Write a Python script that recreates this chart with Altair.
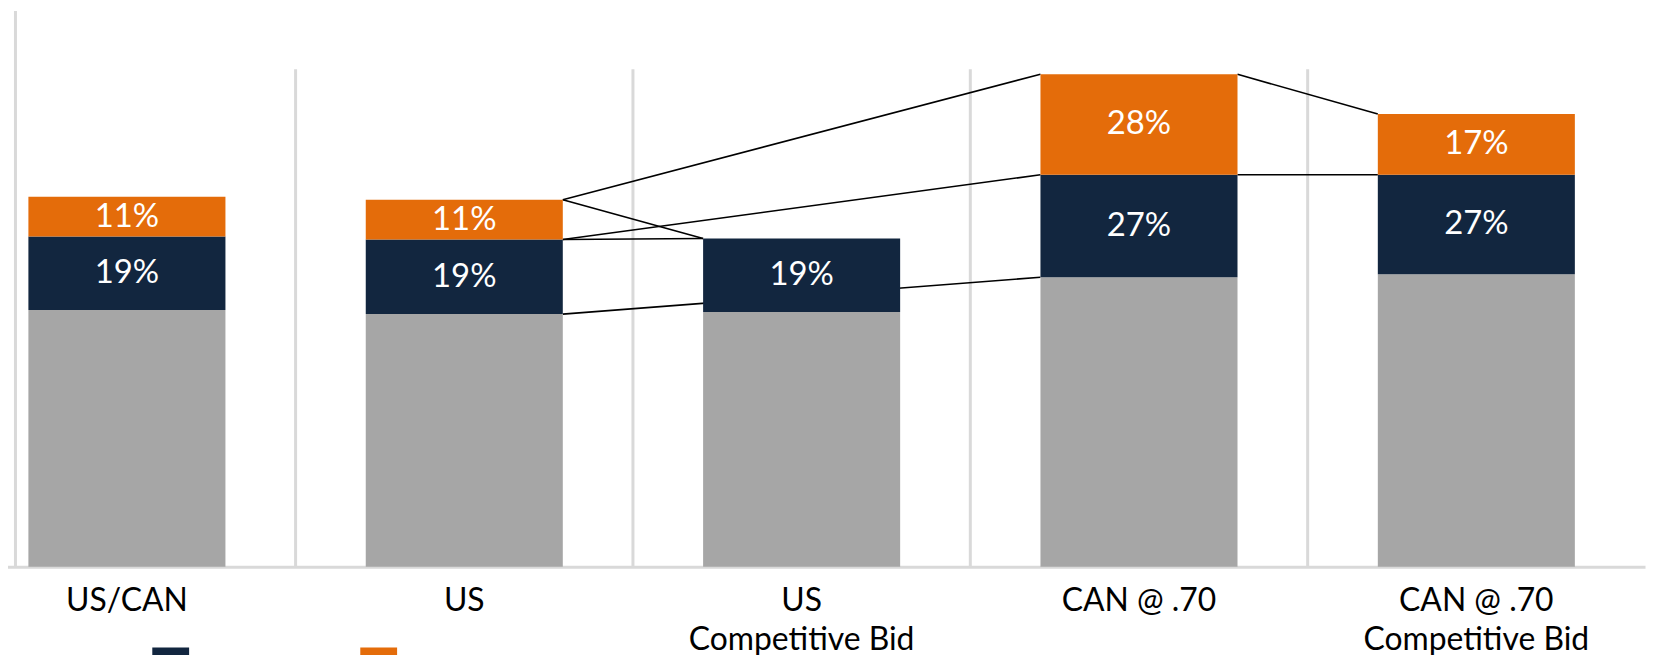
import altair as alt
import pandas as pd

# ---- data ----
categories = ["US/CAN", "US", "US|Competitive Bid", "CAN @ .70", "CAN @ .70|Competitive Bid"]
series = ["Base", "Middle", "Top"]
base_values = [258, 254, 256, 291, 294]
mid_values = [74, 75, 74, 103, 100]
top_values = [40, 40, 0, 101, 61]
mid_labels = ["19%", "19%", "19%", "27%", "27%"]
top_labels = ["11%", "11%", "", "28%", "17%"]

conn_from = ["US", "US", "US", "US", "US", "CAN @ .70", "CAN @ .70"]
conn_to = ["US|Competitive Bid", "CAN @ .70", "US|Competitive Bid", "CAN @ .70", "CAN @ .70",
           "CAN @ .70|Competitive Bid", "CAN @ .70|Competitive Bid"]
conn_level = ["Top", "Top", "Middle", "Middle", "Base", "Top", "Middle"]

colors = ["#A6A6A6", "#12263F", "#E46C0A"]

# ---- build tables ----
seg_rows, text_rows, level_y = [], [], {}
for i, c in enumerate(categories):
    b, m, t = base_values[i], mid_values[i], top_values[i]
    level_y[(c, "Base")] = b
    level_y[(c, "Middle")] = b + m
    level_y[(c, "Top")] = b + m + t
    for s, y0, y1, lab in [("Base", 0, b, ""), ("Middle", b, b + m, mid_labels[i]),
                           ("Top", b + m, b + m + t, top_labels[i])]:
        if y1 > y0:
            seg_rows.append({"cat": c, "series": s, "y0": y0, "y1": y1})
            if lab:
                text_rows.append({"cat": c, "ymid": (y0 + y1) / 2, "label": lab})
seg_df = pd.DataFrame(seg_rows)
text_df = pd.DataFrame(text_rows)
conn_df = pd.DataFrame({
    "from": conn_from,
    "to": conn_to,
    "y_from": [level_y[(f, l)] for f, l in zip(conn_from, conn_level)],
    "y_to": [level_y[(t, l)] for t, l in zip(conn_to, conn_level)],
})
grid_df = pd.DataFrame({"cat": categories[1:]})

# ---- layout ----
W, H = 1641, 559
BAR = 198
STEP = 339
X0 = -57
step = STEP
right_edge = 0.5 + (BAR / 2) / step
left_edge = 0.5 - (BAR / 2) / step

xscale = alt.Scale(domain=categories, paddingInner=0, paddingOuter=0,
                   range=[X0, X0 + STEP * len(categories)])
yscale = alt.Scale(domain=[0, H], nice=False, zero=True)

xaxis = alt.Axis(title=None, labelExpr="split(datum.label, '|')", labelFont="Lato",
                 labelFontSize=32, labelColor="black", labelPadding=19, labelLineHeight=39,
                 labelLimit=0, ticks=False, tickSize=0, domain=True, domainColor="#D9D9D9",
                 domainWidth=3, labelBaseline="top", labelAngle=0, grid=False)
yaxis = alt.Axis(title=None, labels=False, ticks=False, grid=False, domain=True,
                 domainColor="#D9D9D9", domainWidth=3)

legend = alt.Legend(orient="none", legendX=-71, legendY=640, direction="horizontal", title=None,
                    symbolType="square", symbolSize=1369, symbolStrokeWidth=0, labelExpr="''",
                    labelOffset=0, columnPadding=172, padding=0, symbolOpacity=1)

grid = alt.Chart(grid_df).mark_rule(color="#D9D9D9", strokeWidth=3).encode(
    x=alt.X("cat:N", scale=xscale, bandPosition=0, axis=xaxis),
    y=alt.value(59),
    y2=alt.value(H),
)

conn = alt.Chart(conn_df).mark_rule(color="black", strokeWidth=1.6).encode(
    x=alt.X("from:N", scale=xscale, bandPosition=right_edge, axis=xaxis),
    x2=alt.X2("to", bandPosition=left_edge),
    y=alt.Y("y_from:Q", scale=yscale, axis=yaxis),
    y2="y_to:Q",
)

bars = alt.Chart(seg_df).mark_bar(size=BAR).encode(
    x=alt.X("cat:N", scale=xscale, axis=xaxis),
    y=alt.Y("y0:Q", scale=yscale, axis=yaxis),
    y2="y1:Q",
    color=alt.Color("series:N", scale=alt.Scale(domain=series, range=colors), legend=legend),
)

texts = alt.Chart(text_df).mark_text(color="white", fontSize=33, font="Lato", baseline="middle").encode(
    x=alt.X("cat:N", scale=xscale, axis=xaxis),
    y=alt.Y("ymid:Q", scale=yscale, axis=yaxis),
    text="label:N",
)

chart = alt.layer(grid, conn, bars, texts).properties(
    width=W, height=H,
    padding={"left": 7, "top": 1, "right": 0, "bottom": 90},
    autosize=alt.AutoSizeParams(type="none"),
).configure_view(stroke=None)

chart.save("out.html", embed_options={"renderer": "svg", "actions": False})
